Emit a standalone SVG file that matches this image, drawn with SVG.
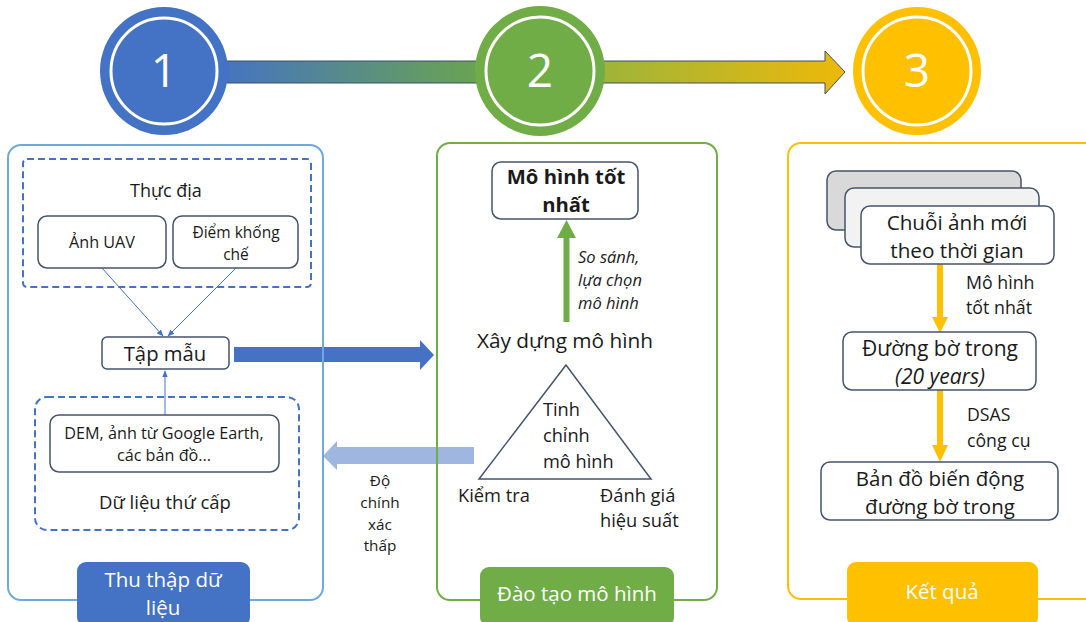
<svg xmlns="http://www.w3.org/2000/svg" width="1086" height="622" viewBox="0 0 1086 622">
  <style>
    text { font-family: "Open Sans", "Noto Sans", "DejaVu Sans", sans-serif; fill: #1a1a1a; }
    .c { text-anchor: middle; }
    .box { fill: #ffffff; stroke: #44546A; stroke-width: 1.5; }
    .dash { fill: none; stroke: #4472C4; stroke-width: 2; stroke-dasharray: 7 4; }
    .num { font-size: 46px; fill: #ffffff; text-anchor: middle; }
    .tag { font-size: 20.5px; fill: #ffffff; text-anchor: middle; }
    .thin { stroke: #4472C4; stroke-width: 1; fill: none; marker-end: url(#tip); }
  </style>
  <defs>
    <linearGradient id="flow" x1="228" y1="0" x2="846" y2="0" gradientUnits="userSpaceOnUse">
      <stop offset="0" stop-color="#4675BE"/>
      <stop offset="0.4" stop-color="#69A352"/>
      <stop offset="0.6" stop-color="#9DB43A"/>
      <stop offset="1" stop-color="#EDB90A"/>
    </linearGradient>
    <marker id="tip" viewBox="0 0 10 10" refX="9" refY="5" markerWidth="7" markerHeight="7" orient="auto">
      <path d="M0,1 L10,5 L0,9 z" fill="#4472C4"/>
    </marker>
  </defs>

  <!-- progress bar joining the three stages -->
  <g id="connectors">
    <path d="M226,61 H825 V51 L845,72 L825,94 V83 H226 Z" fill="url(#flow)" stroke="#3B4E6B" stroke-width="1"/>
    <!-- field data into sample set -->
    <line class="thin" x1="102" y1="268" x2="163" y2="336"/>
    <line class="thin" x1="236" y1="268" x2="168" y2="336"/>
    <line class="thin" x1="165" y1="415" x2="165" y2="371"/>
    <!-- sample set to training -->
    <path d="M234,347 H420 V340 L434,355 L420,370 V362 H234 Z" fill="#4472C4"/>
    <!-- low accuracy feedback -->
    <path d="M474,447 H337 V441 L323,456 L337,470 V464 H474 Z" fill="#8EAADB" fill-opacity="0.85"/>
    <!-- select best model -->
    <path d="M563.5,322 V238 H557 L566.5,220 L576,238 H569.5 V322 Z" fill="#70AD47"/>
    <!-- results chain -->
    <path d="M937,264 V317 H932 L940,333 L948,317 H943 V264 Z" fill="#FFC000"/>
    <path d="M937,390 V445 H932 L940,462 L948,445 H943 V390 Z" fill="#FFC000"/>
  </g>

  <!-- stage circles -->
  <g id="stage1">
    <circle cx="164" cy="71" r="64" fill="#4472C4"/>
    <circle cx="164" cy="71" r="53" fill="none" stroke="#ffffff" stroke-width="3"/>
    <text class="num" x="164" y="87">1</text>
  </g>
  <g id="stage2">
    <circle cx="540" cy="71" r="65" fill="#70AD47"/>
    <circle cx="540" cy="71" r="54" fill="none" stroke="#ffffff" stroke-width="3"/>
    <text class="num" x="540" y="87">2</text>
  </g>
  <g id="stage3">
    <circle cx="917" cy="71" r="64" fill="#FFC000"/>
    <circle cx="917" cy="71" r="54" fill="none" stroke="#ffffff" stroke-width="3"/>
    <text class="num" x="917" y="87">3</text>
  </g>

  <!-- panel 1: data collection -->
  <g id="panel-collect">
    <rect x="8" y="145" width="315" height="455" rx="13" fill="none" stroke="#6FA8DC" stroke-width="2"/>
    <rect class="dash" x="23" y="159" width="288" height="128" rx="4"/>
    <text class="c" x="166" y="197" font-size="18">Thực địa</text>
    <rect class="dash" x="35" y="397" width="264" height="133" rx="12"/>
    <text class="c" x="165" y="509" font-size="18.5">Dữ liệu thứ cấp</text>
    <rect x="77" y="562" width="173" height="64" rx="9" fill="#4472C4"/>
    <text class="tag" x="163" y="587">Thu thập dữ</text>
    <text class="tag" x="163" y="615">liệu</text>
  </g>
  <g id="node-uav">
    <rect class="box" x="38" y="216" width="128" height="52" rx="9"/>
    <text class="c" x="102" y="248" font-size="16.2">Ảnh UAV</text>
  </g>
  <g id="node-control">
    <rect class="box" x="173" y="216" width="125" height="52" rx="9"/>
    <text class="c" x="236" y="238" font-size="15.5">Điểm khống</text>
    <text class="c" x="236" y="260" font-size="15.5">chế</text>
  </g>
  <g id="node-sample">
    <rect class="box" x="102" y="337" width="127" height="32" rx="5"/>
    <text class="c" x="165" y="361" font-size="20.3">Tập mẫu</text>
  </g>
  <g id="node-secondary">
    <rect class="box" x="50" y="415" width="229" height="57" rx="9"/>
    <text class="c" x="164" y="439" font-size="16.2">DEM, ảnh từ Google Earth,</text>
    <text class="c" x="164" y="461" font-size="16.2">các bản đồ...</text>
  </g>

  <!-- feedback label -->
  <g id="label-accuracy" font-size="15.3">
    <text class="c" x="380" y="486">Độ</text>
    <text class="c" x="380" y="508">chính</text>
    <text class="c" x="380" y="530">xác</text>
    <text class="c" x="380" y="551">thấp</text>
  </g>

  <!-- panel 2: model training -->
  <g id="panel-train">
    <rect x="437" y="143" width="280" height="457" rx="13" fill="none" stroke="#70AD47" stroke-width="2"/>
    <rect x="480" y="567" width="194" height="59" rx="9" fill="#70AD47"/>
    <text class="tag" x="577" y="601">Đào tạo mô hình</text>
  </g>
  <g id="node-best">
    <rect class="box" x="492" y="162" width="146" height="57" rx="9"/>
    <text class="c" x="566" y="184" font-size="20.3" font-weight="bold">Mô hình tốt</text>
    <text class="c" x="566" y="212" font-size="20.3" font-weight="bold">nhất</text>
  </g>
  <g id="label-compare" font-size="16.5" font-style="italic">
    <text x="578" y="263">So sánh,</text>
    <text x="578" y="286">lựa chọn</text>
    <text x="578" y="309">mô hình</text>
  </g>
  <g id="node-build">
    <text class="c" x="565" y="348" font-size="20.8">Xây dựng mô hình</text>
    <path d="M566,365 L479,479 L651,479 Z" fill="none" stroke="#44546A" stroke-width="1.5"/>
    <text x="543" y="416" font-size="18.2">Tinh</text>
    <text x="543" y="442" font-size="18.2">chỉnh</text>
    <text x="543" y="468" font-size="18.2">mô hình</text>
    <text x="458" y="502" font-size="18.3">Kiểm tra</text>
    <text x="600" y="502" font-size="18.3">Đánh giá</text>
    <text x="600" y="527" font-size="18.3">hiệu suất</text>
  </g>

  <!-- panel 3: results -->
  <g id="panel-result">
    <rect x="788" y="143" width="310" height="456" rx="13" fill="none" stroke="#FFC000" stroke-width="2"/>
    <rect x="847" y="562" width="191" height="64" rx="9" fill="#FFC000"/>
    <text class="tag" x="942" y="599" font-size="19.4">Kết quả</text>
  </g>
  <g id="node-series">
    <rect x="827" y="171" width="194" height="59" rx="9" fill="#D9D9D9" stroke="#44546A" stroke-width="1.5"/>
    <rect x="845" y="188" width="194" height="59" rx="9" fill="#F2F2F2" stroke="#44546A" stroke-width="1.5"/>
    <rect class="box" x="861" y="206" width="193" height="58" rx="9"/>
    <text class="c" x="957" y="230" font-size="20.7">Chuỗi ảnh mới</text>
    <text class="c" x="957" y="258" font-size="20.7">theo thời gian</text>
  </g>
  <g id="label-bestmodel" font-size="17.8">
    <text x="966" y="289">Mô hình</text>
    <text x="966" y="314">tốt nhất</text>
  </g>
  <g id="node-shoreline">
    <rect class="box" x="843" y="332" width="193" height="58" rx="9"/>
    <text class="c" x="940" y="356" font-size="21">Đường bờ trong</text>
    <text class="c" x="940" y="384" font-size="21" font-style="italic">(20 years)</text>
  </g>
  <g id="label-dsas" font-size="17.7">
    <text x="967" y="421">DSAS</text>
    <text x="967" y="447">công cụ</text>
  </g>
  <g id="node-change">
    <rect class="box" x="821" y="462" width="237" height="58" rx="9"/>
    <text class="c" x="940" y="486" font-size="20.5">Bản đồ biến động</text>
    <text class="c" x="940" y="514" font-size="20.5">đường bờ trong</text>
  </g>
</svg>
